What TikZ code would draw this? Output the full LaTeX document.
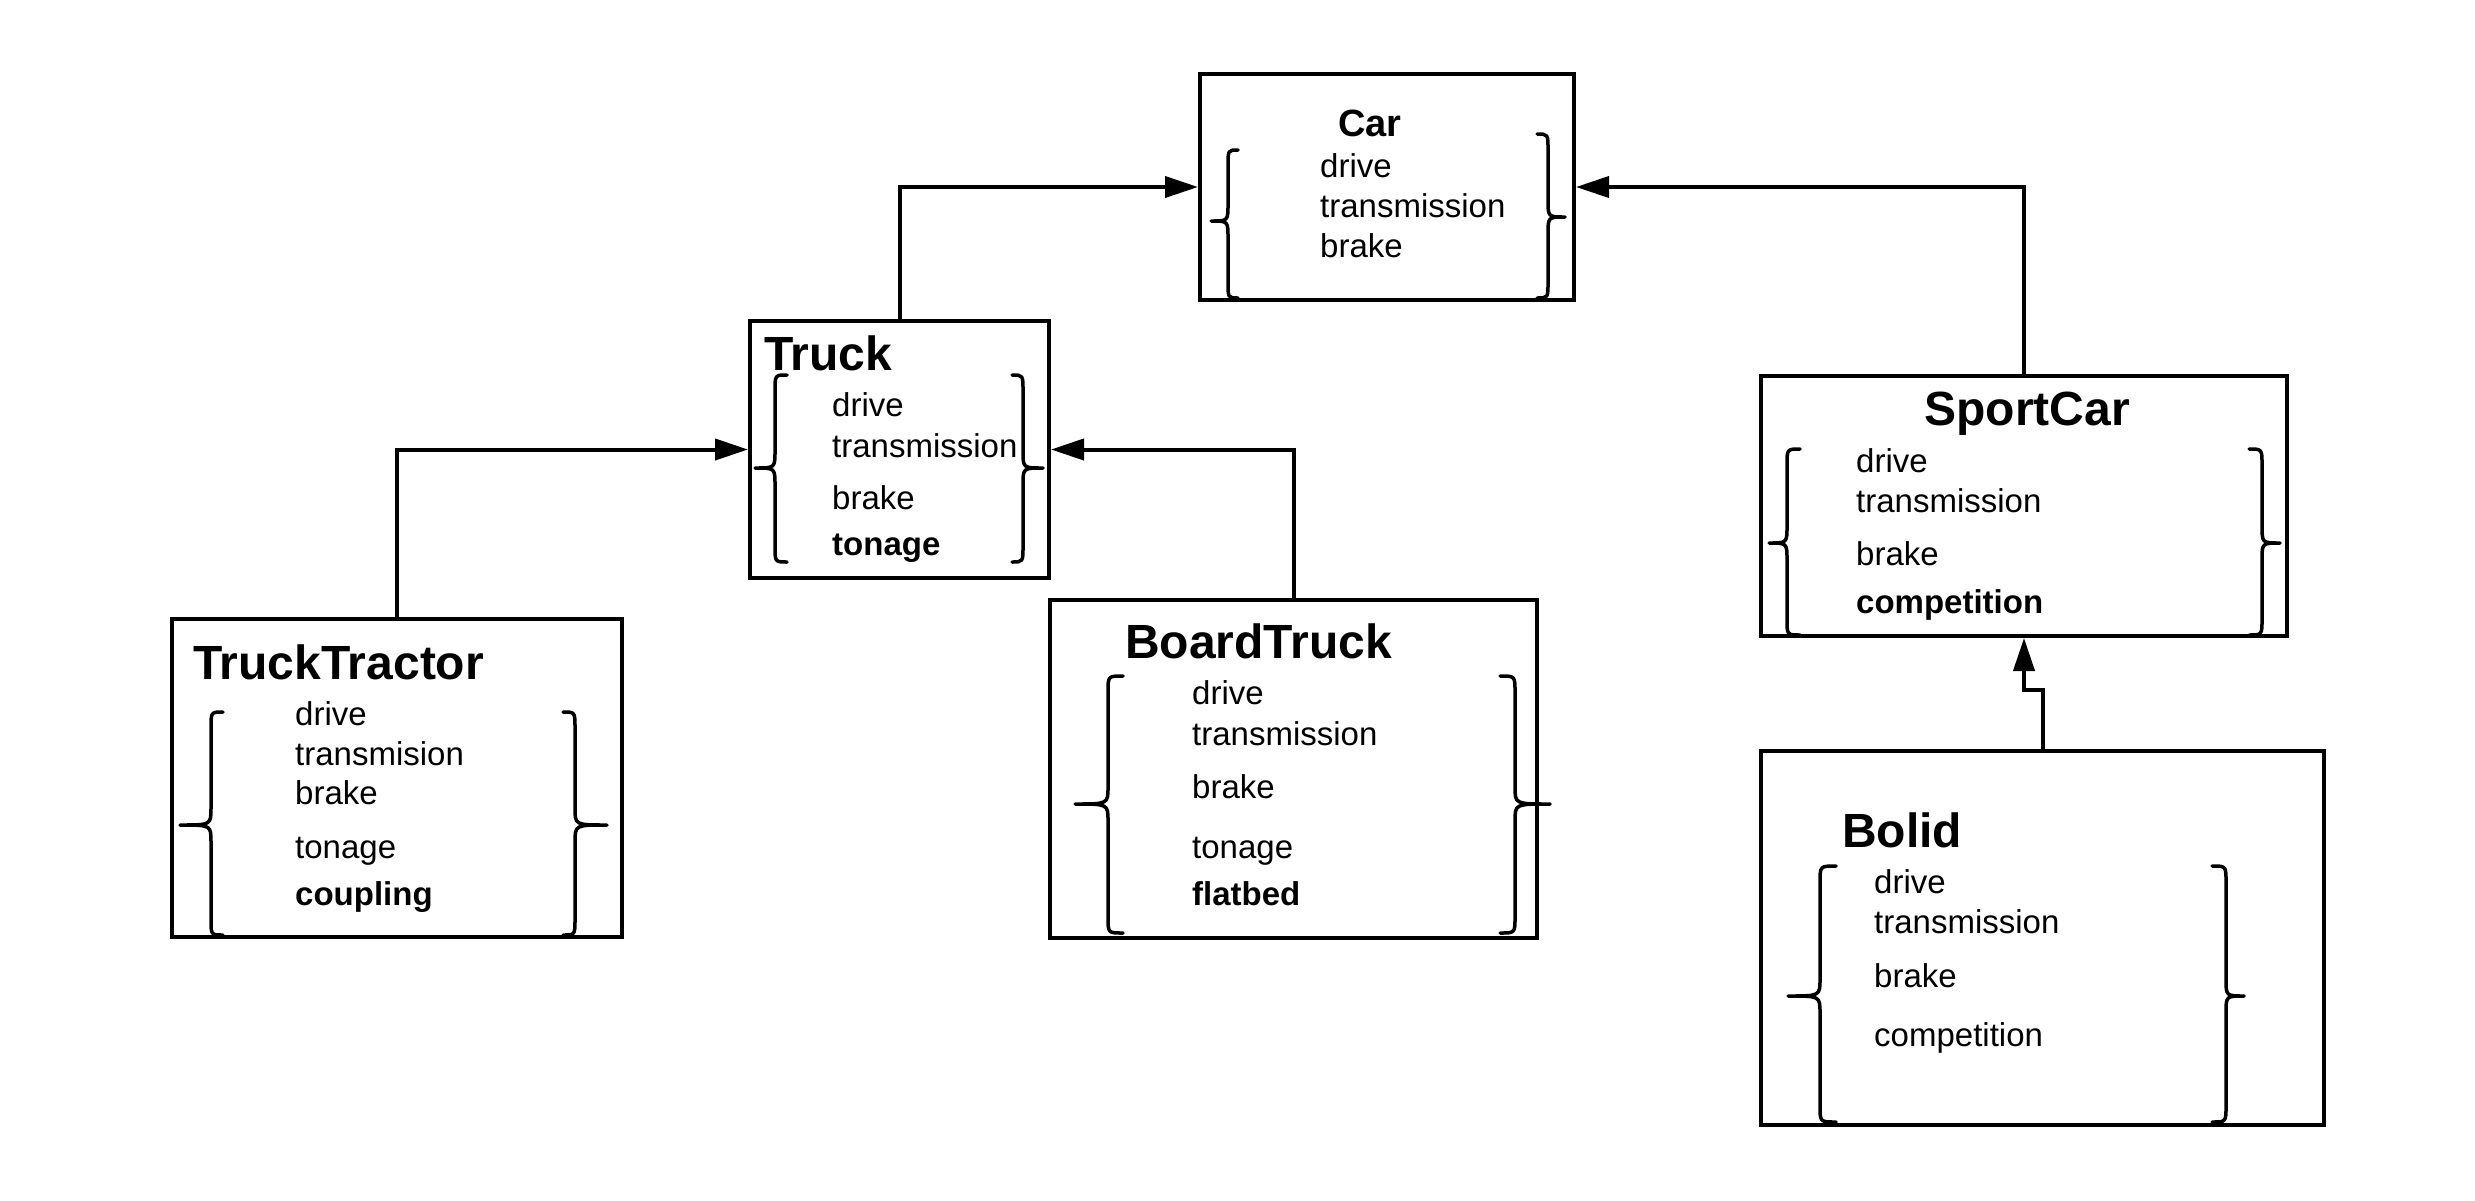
\documentclass[tikz,border=0pt]{standalone}
\usepackage{fontspec}
\setmainfont{Liberation Sans}
\usetikzlibrary{arrows.meta}
% #1 x of vertical stroke, #2 x of hook ends, #3 x of tip, #4 top y, #5 tip y, #6 bottom y
\newcommand{\brc}[6]{\draw[bracepath] (#2,#4) .. controls (#1,#4) .. (#1,#4+16) -- (#1,#5-17) .. controls (#1,#5) .. (#3,#5) .. controls (#1,#5) .. (#1,#5+17) -- (#1,#6-16) .. controls (#1,#6) .. (#2,#6);}
\begin{document}
\begin{tikzpicture}[x=1pt,y=-1pt,
  box/.style={draw, line width=4pt, inner sep=0pt},
  itm/.style={anchor=base west, inner sep=0pt, font=\fontsize{33}{40}\selectfont},
  bitm/.style={itm, font=\fontsize{33}{40}\selectfont\bfseries},
  ttl/.style={anchor=base west, inner sep=0pt, font=\fontsize{48}{56}\selectfont\bfseries},
  bracepath/.style={line width=3.5pt, line cap=round, line join=round},
  conn/.style={line width=4pt, -{Triangle[length=33pt,width=21pt]}}]
\useasboundingbox[fill=white] (0,0) rectangle (2475,1200);

% ---------- Car ----------
\node[box, minimum width=374pt, minimum height=226pt] (car) at (1387,187) {};
\node[anchor=base, inner sep=0pt, font=\fontsize{38}{44}\selectfont\bfseries] (cart) at (1370,136) {Car};
\node[itm] (car1) at (1320,177) {drive};
\node[itm] (car2) at (1320,217) {transmission};
\node[itm] (car3) at (1320,257) {brake};
\brc{1228}{1238}{1211}{150}{221}{298}
\brc{1548}{1537}{1565}{134}{217}{298}

% ---------- Truck ----------
\node[box, minimum width=299pt, minimum height=257pt] (truck) at (899.5,449.5) {};
\node[ttl] (trt) at (764,370) {Truck};
\node[itm] (tr1) at (832,416) {drive};
\node[itm] (tr2) at (832,457) {transmission};
\node[itm] (tr3) at (832,509) {brake};
\node[bitm] (tr4) at (832,555) {tonage};
\brc{775}{787}{755}{375}{468}{562}
\brc{1023}{1012}{1043}{375}{468}{562}

% ---------- TruckTractor ----------
\node[box, minimum width=450pt, minimum height=318pt] (tt) at (397,778) {};
\node[ttl] (ttt) at (193,679) {TruckTractor};
\node[itm] (tt1) at (295,725) {drive};
\node[itm] (tt2) at (295,765) {transmision};
\node[itm] (tt3) at (295,804) {brake};
\node[itm] (tt4) at (295,858) {tonage};
\node[bitm] (tt5) at (295,905) {coupling};
\brc{211}{223}{180}{712}{825}{935}
\brc{575}{563}{607}{712}{825}{935}

% ---------- BoardTruck ----------
\node[box, minimum width=487pt, minimum height=338pt] (bt) at (1293.5,769) {};
\node[ttl] (btt) at (1125,658) {BoardTruck};
\node[itm] (bt1) at (1192,704) {drive};
\node[itm] (bt2) at (1192,745) {transmission};
\node[itm] (bt3) at (1192,798) {brake};
\node[itm] (bt4) at (1192,858) {tonage};
\node[bitm] (bt5) at (1192,905) {flatbed};
\brc{1108}{1123}{1075}{676}{804}{933}
\brc{1515}{1500}{1550}{676}{804}{933}

% ---------- SportCar ----------
\node[box, minimum width=526pt, minimum height=260pt] (sport) at (2024,506) {};
\node[ttl, anchor=base] (spt) at (2027,425) {SportCar};
\node[itm] (sp1) at (1856,472) {drive};
\node[itm] (sp2) at (1856,512) {transmission};
\node[itm] (sp3) at (1856,565) {brake};
\node[bitm] (sp4) at (1856,613) {competition};
\brc{1787}{1800}{1769}{449}{543}{635}
\brc{2262}{2249}{2280}{449}{543}{635}

% ---------- Bolid ----------
\node[box, minimum width=563pt, minimum height=374pt] (bolid) at (2042.5,938) {};
\node[ttl] (bot) at (1842,847) {Bolid};
\node[itm] (bo1) at (1874,893) {drive};
\node[itm] (bo2) at (1874,933) {transmission};
\node[itm] (bo3) at (1874,987) {brake};
\node[itm] (bo4) at (1874,1046) {competition};
\brc{1820}{1836}{1788}{866}{996}{1122}
\brc{2226}{2212}{2244}{866}{996}{1122}

% ---------- connectors ----------
\draw[conn] (truck.north) |- (car.west);
\draw[conn] (sport.north) |- (car.east);
\draw[conn] (tt.north) |- (truck.west);
\draw[conn] (bt.north) |- (truck.east);
\draw[conn] (bolid.north) -- ++(0,-59) -| (sport.south);
\end{tikzpicture}
\end{document}
